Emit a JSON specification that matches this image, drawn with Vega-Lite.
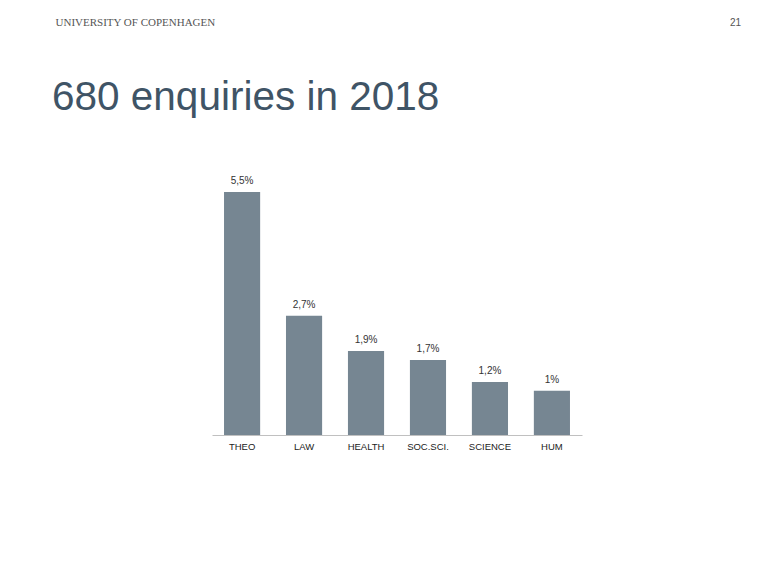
{
  "$schema": "https://vega.github.io/schema/vega-lite/v6.json",
  "autosize": {"type": "none"},
  "width": 370,
  "height": 243,
  "padding": {"left": 212, "top": 192, "right": 193, "bottom": 131},
  "background": "white",
  "title": {
    "text": "680 enquiries in 2018",
    "anchor": "start",
    "frame": "group",
    "orient": "top",
    "baseline": "alphabetic",
    "dx": -160,
    "offset": -134,
    "font": "Liberation Sans",
    "fontSize": 40.5,
    "fontWeight": "normal",
    "color": "#3f5466"
  },
  "data": {
    "values": [
      {"faculty": "THEO", "share": 5.5, "label": "5,5%"},
      {"faculty": "LAW", "share": 2.7, "label": "2,7%"},
      {"faculty": "HEALTH", "share": 1.9, "label": "1,9%"},
      {"faculty": "SOC.SCI.", "share": 1.7, "label": "1,7%"},
      {"faculty": "SCIENCE", "share": 1.2, "label": "1,2%"},
      {"faculty": "HUM", "share": 1.0, "label": "1%"}
    ]
  },
  "encoding": {
    "x": {
      "field": "faculty",
      "type": "nominal",
      "sort": null,
      "scale": {"paddingInner": 0.417, "paddingOuter": 0.194},
      "axis": {
        "title": "21",
        "titleX": 523,
        "titleY": -413,
        "titleAlign": "center",
        "titleBaseline": "middle",
        "titleFont": "Liberation Sans",
        "titleFontSize": 10,
        "titleFontWeight": "normal",
        "titleColor": "#555555",
        "labelAngle": 0,
        "labelFont": "Liberation Sans",
        "labelFontSize": 9.5,
        "labelColor": "#222222",
        "labelPadding": 6,
        "ticks": false,
        "domainColor": "#c0c0c0",
        "domainWidth": 1
      }
    },
    "y": {
      "field": "share",
      "type": "quantitative",
      "scale": {"domain": [0, 5.5], "nice": false, "zero": true},
      "axis": {
        "title": "UNIVERSITY OF COPENHAGEN",
        "titleX": -157,
        "titleY": -170,
        "titleAngle": 0,
        "titleAlign": "left",
        "titleBaseline": "middle",
        "titleFont": "Liberation Serif",
        "titleFontSize": 11,
        "titleFontWeight": "normal",
        "titleColor": "#555555",
        "labels": false,
        "ticks": false,
        "domain": false,
        "grid": false
      }
    }
  },
  "layer": [
    {"mark": {"type": "bar", "color": "#768692"}},
    {
      "mark": {
        "type": "text",
        "baseline": "bottom",
        "dy": -6,
        "font": "Liberation Sans",
        "fontSize": 10,
        "color": "#333333"
      },
      "encoding": {"text": {"field": "label"}}
    }
  ],
  "config": {"view": {"stroke": null}}
}
